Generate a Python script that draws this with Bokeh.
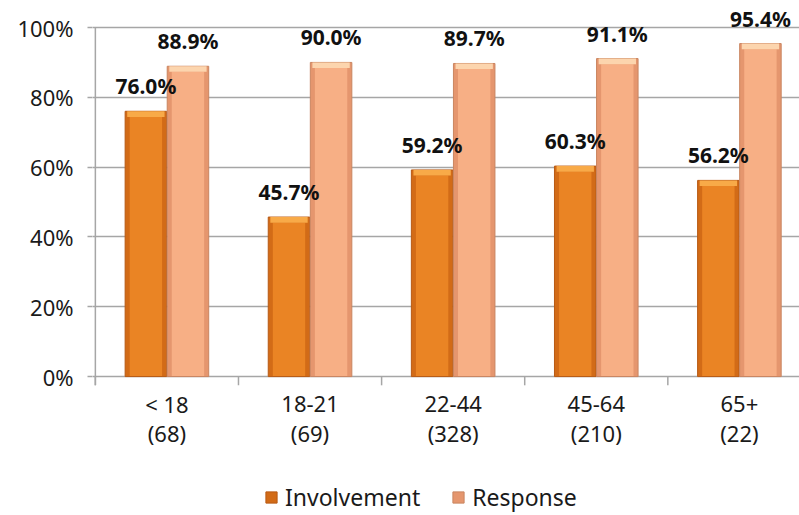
from bokeh.plotting import figure
from bokeh.models import (Range1d, FixedTicker, NumeralTickFormatter,
                          ColumnDataSource, Legend, LegendItem)
from bokeh.transform import dodge
from bokeh.core.properties import value
from bokeh.embed import file_html
from bokeh.resources import INLINE

categories = ["< 18", "18-21", "22-44", "45-64", "65+"]
counts = ["(68)", "(69)", "(328)", "(210)", "(22)"]
involvement = [0.760, 0.457, 0.592, 0.603, 0.562]
response = [0.889, 0.900, 0.897, 0.911, 0.954]
y_ticks = [0, 0.2, 0.4, 0.6, 0.8, 1.0]

FONT = "Noto Sans"
GRID = "#A6A6A6"
TXT = "#1a1a1a"
BAR_W = 0.29
OFF = 0.147
BEVEL = 0.016
TICK_LEN = 0.025

x = [i + 0.5 for i in range(len(categories))]
src = ColumnDataSource(dict(
    x=x,
    base=[0] * len(categories),
    cat=categories,
    cnt=counts,
    inv=involvement,
    resp=response,
    inv_b=[v - BEVEL for v in involvement],
    resp_b=[v - BEVEL for v in response],
    inv_lbl=[f"{v * 100:.1f}%" for v in involvement],
    resp_lbl=[f"{v * 100:.1f}%" for v in response],
))
bounds = ColumnDataSource(dict(x=list(range(len(categories))),
                               y0=[-TICK_LEN] * len(categories),
                               y1=[0] * len(categories)))

p = figure(frame_width=707, frame_height=515,
           x_range=Range1d(-0.02, 4.92), y_range=Range1d(-0.398, 1.0774),
           output_backend="svg", toolbar_location=None, x_axis_location=None,
           min_border_left=92, min_border_right=0, min_border_top=0, min_border_bottom=0,
           outline_line_color=None, background_fill_color="white", border_fill_color="white")

# grid
p.xgrid.visible = False
p.ygrid.ticker = FixedTicker(ticks=y_ticks)
p.ygrid.grid_line_color = GRID
p.ygrid.grid_line_width = 1.5

# y axis (labels + outward ticks; line drawn separately)
ya = p.yaxis[0]
ya.ticker = FixedTicker(ticks=y_ticks)
ya.formatter = NumeralTickFormatter(format="0%")
ya.major_tick_out = 5
ya.major_tick_in = 0
ya.minor_tick_line_color = None
ya.axis_line_color = None
ya.major_tick_line_color = GRID
ya.major_tick_line_width = 1.5
ya.major_label_text_font = FONT
ya.major_label_text_font_size = "22px"
ya.major_label_text_color = TXT
ya.major_label_standoff = 14

p.segment(x0=[0], y0=[-TICK_LEN], x1=[0], y1=[y_ticks[-1]], line_color=GRID, line_width=1.5)

# category boundary ticks
p.segment(x0="x", y0="y0", x1="x", y1="y1", source=bounds, line_color=GRID, line_width=1.5)

# category labels (two lines)
p.text(x="x", y="base", text="cat", source=src, y_offset=27,
       text_align="center", text_baseline="middle",
       text_font=value(FONT), text_font_size="22px", text_color=TXT)
p.text(x="x", y="base", text="cnt", source=src, y_offset=56,
       text_align="center", text_baseline="middle",
       text_font=value(FONT), text_font_size="22px", text_color=TXT)

# bars
r_inv = p.vbar(x=dodge("x", -OFF), top="inv", bottom=0, width=BAR_W, source=src,
               fill_color="#D26B17", line_color="#B85A14", line_width=1)
p.vbar(x=dodge("x", -OFF), top="inv_b", bottom=0.002, width=BAR_W * 0.78, source=src,
       fill_color="#EA8424", line_color=None)
p.vbar(x=dodge("x", -OFF), top="inv", bottom="inv_b", width=BAR_W * 0.9, source=src,
       fill_color="#F8AA48", line_color=None)

r_resp = p.vbar(x=dodge("x", OFF), top="resp", bottom=0, width=BAR_W, source=src,
                fill_color="#E5966E", line_color="#C98560", line_width=1)
p.vbar(x=dodge("x", OFF), top="resp_b", bottom=0.002, width=BAR_W * 0.78, source=src,
       fill_color="#F7AF85", line_color=None)
p.vbar(x=dodge("x", OFF), top="resp", bottom="resp_b", width=BAR_W * 0.9, source=src,
       fill_color="#FCD5AE", line_color=None)

# data labels
for col, lbl, off in (("inv", "inv_lbl", -OFF), ("resp", "resp_lbl", OFF)):
    p.text(x=dodge("x", off), y=col, text=lbl, source=src, y_offset=-25,
           text_align="center", text_baseline="middle",
           text_font=value(FONT), text_font_style="bold", text_font_size="21px",
           text_color="#111111")

legend = Legend(items=[LegendItem(label="Involvement", renderers=[r_inv]),
                       LegendItem(label="Response", renderers=[r_resp])],
                orientation="horizontal", location=(172, 2),
                label_text_font=FONT, label_text_font_size="23px", label_text_color=TXT,
                glyph_width=14, glyph_height=14, spacing=31, label_standoff=7,
                border_line_color=None, background_fill_alpha=0, margin=0, padding=0)
p.add_layout(legend)

open("out.html", "w").write(file_html(p, INLINE))
